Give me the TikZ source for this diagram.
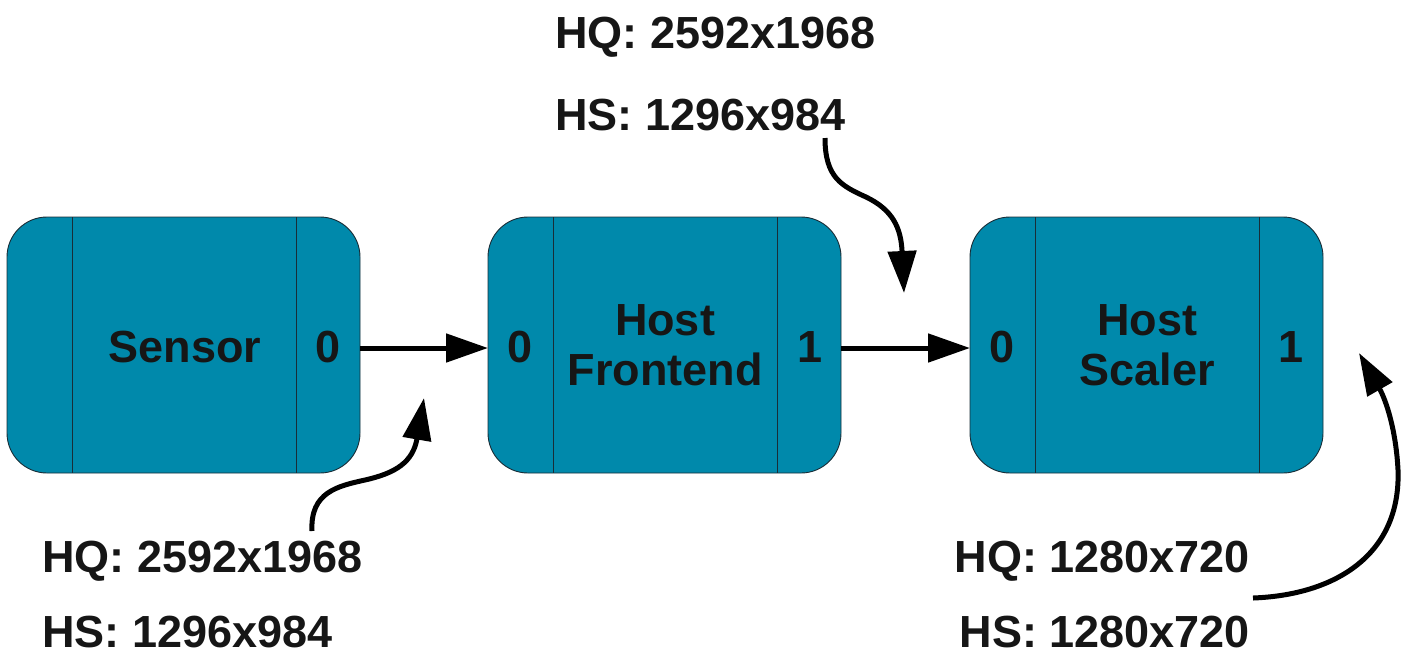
\documentclass[tikz,border=0pt]{standalone}
\usepackage{fontspec}
\setmainfont{Liberation Sans}
\usetikzlibrary{arrows.meta}
\definecolor{boxfill}{RGB}{0,137,171}
\definecolor{boxline}{RGB}{25,45,55}
\definecolor{txt}{RGB}{22,22,22}
\begin{document}
\begin{tikzpicture}[x=1pt,y=-1pt,
  blk/.style={draw=boxline, fill=boxfill, line width=0.9pt, rounded corners=40pt,
    minimum width=353pt, minimum height=256pt, inner sep=0pt, outer sep=0pt},
  div/.style={draw=boxline, line width=0.9pt},
  btxt/.style={font=\fontsize{45}{50}\selectfont\bfseries, text=txt, inner sep=0pt, align=center},
  lbl/.style={font=\fontsize{45}{50}\selectfont\bfseries, text=txt, inner sep=0pt},
  conn/.style={line width=5pt, -{Triangle[length=42pt,width=28pt]}}
]
\useasboundingbox (0,0) rectangle (1407,657);

% boxes
\node[blk] (s) at (183.5,345) {};
\node[blk] (f) at (664.5,345) {};
\node[blk] (h) at (1146.5,345) {};

\foreach \b in {s,f,h}{
  \draw[div] ([xshift=65pt]\b.north west) -- ([xshift=65pt]\b.south west);
  \draw[div] ([xshift=-64pt]\b.north east) -- ([xshift=-64pt]\b.south east);
}

% box texts
\node[btxt, anchor=base] (stx) at (185,362) {Sensor};
\node[btxt, anchor=base] (s0) at (328,362) {0};
\node[btxt, anchor=base] (f0) at (520,362) {0};
\node[btxt] (ftx) at (665,345) {Host\\Frontend};
\node[btxt, anchor=base] (f1) at (810,362) {1};
\node[btxt, anchor=base] (h0) at (1002,362) {0};
\node[btxt] (htx) at (1147,345) {Host\\Scaler};
\node[btxt, anchor=base] (h1) at (1291,362) {1};

% labels
\node[lbl, anchor=base west] (tq) at (555,48) {HQ: 2592x1968};
\node[lbl, anchor=base west] (ts) at (555,130) {HS: 1296x984};
\node[lbl, anchor=base west] (lq) at (42,572) {HQ: 2592x1968};
\node[lbl, anchor=base west] (ls) at (42,647) {HS: 1296x984};
\node[lbl, anchor=base east] (rq) at (1250,572) {HQ: 1280x720};
\node[lbl, anchor=base east] (rs) at (1250,647) {HS: 1280x720};

% horizontal connectors
\draw[conn] (s.east |- 0,348) -- (f.west |- 0,348);
\draw[conn] (f.east |- 0,348) -- (h.west |- 0,348);

% curved connectors
\coordinate (c1s) at (312,531);
\coordinate (c1e) at (424,398);
\draw[conn] (c1s) .. controls (310,492) and (338,486) .. (365,480)
  .. controls (396,473) and (413,462) .. (c1e);

\coordinate (c2s) at (825,138);
\coordinate (c2e) at (904,293);
\draw[conn] (c2s) .. controls (825,178) and (842,186) .. (866,197)
  .. controls (893,210) and (901,228) .. (c2e);

\coordinate (c3s) at (1253,598);
\coordinate (c3e) at (1359,353);
\draw[conn] (c3s) .. controls (1335,595) and (1401,555) .. (1398,470)
  .. controls (1396,430) and (1386,400) .. (c3e);
\end{tikzpicture}
\end{document}
